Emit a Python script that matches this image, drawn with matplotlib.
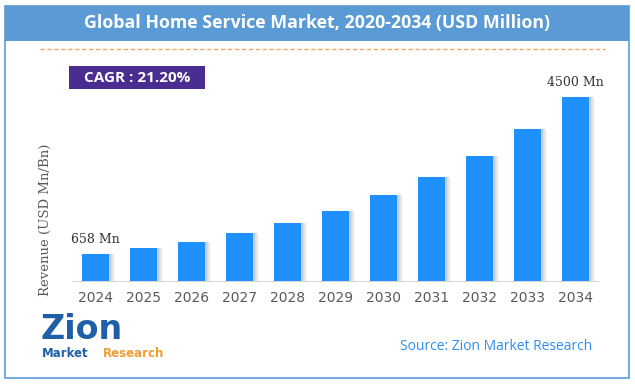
import matplotlib.pyplot as plt
from matplotlib.patches import Rectangle
import numpy as np

# 数据
years = ["2024", "2025", "2026", "2027", "2028", "2029", "2030", "2031", "2032", "2033", "2034"]
revenue = [658, 800, 965, 1170, 1420, 1720, 2090, 2530, 3065, 3715, 4500]
first_label = "658 Mn"
last_label = "4500 Mn"
title = "Global Home Service Market, 2020-2034 (USD Million)"
cagr = "CAGR : 21.20%"
source = "Source: Zion Market Research"

W, H = 635, 385
fig = plt.figure(figsize=(W / 100, H / 100), dpi=100)

def px(x, y):
    # 像素坐标 -> 图坐标
    return x / W, 1 - y / H

# 外框与标题栏
fig.patches.append(Rectangle(px(5, 378), 624 / W, 372 / H, transform=fig.transFigure,
                             fill=False, edgecolor="#5B9BD5", linewidth=1.2))
fig.patches.append(Rectangle(px(5, 41), 624 / W, 35 / H, transform=fig.transFigure,
                             facecolor="#5B9BD5", edgecolor="none"))
fig.text(*px(317, 23), title, color="white", fontsize=12.8, fontweight="bold",
         family="Open Sans", ha="center", va="center")

# 橙色虚线
fig.add_artist(plt.Line2D([40 / W, 605 / W], [1 - 49 / H] * 2, transform=fig.transFigure,
                          color="#F4A460", linestyle=(0, (3, 2)), linewidth=1))

# CAGR 框
fig.patches.append(Rectangle(px(69, 89), 136 / W, 23 / H, transform=fig.transFigure,
                             facecolor="#4B2C91", edgecolor="none"))
fig.text(*px(137, 78), cagr, color="white", fontsize=11, fontweight="bold",
         family="Open Sans", ha="center", va="center")

# 柱状图
ax = fig.add_axes([72 / W, 1 - 281 / H, 526 / W, 221 / H])
x = np.arange(len(years))
bw = 0.56
for k in range(1, 7):
    ax.bar(x + bw / 2 + k * 0.02 - 0.01, revenue, width=0.04, color="#555555",
           alpha=0.10 * (7 - k) / 3, zorder=1, linewidth=0)
ax.bar(x, revenue, width=bw, color="#1E90FF", zorder=3, linewidth=0)
ax.set_xlim(-0.49, 10.47)
ax.set_ylim(0, 5400)
ax.set_xticks(x)
ax.set_xticklabels(years, fontsize=10, color="#595959")
ax.tick_params(axis="x", length=0, pad=7)
ax.set_yticks([])
for s in ["top", "left", "right"]:
    ax.spines[s].set_visible(False)
ax.spines["bottom"].set_color("#D9D9D9")
ax.patch.set_alpha(0)

ax.annotate(first_label, (x[0], revenue[0]), xytext=(0, 6), textcoords="offset points",
            ha="center", va="bottom", fontsize=9, family="DejaVu Serif", color="#333333")
ax.annotate(last_label, (x[-1], revenue[-1]), xytext=(0, 6), textcoords="offset points",
            ha="center", va="bottom", fontsize=9, family="DejaVu Serif", color="#333333")

fig.text(*px(45, 220), "Revenue (USD Mn/Bn)", rotation=90, fontsize=9.5,
         family="DejaVu Serif", color="#595959", ha="center", va="center")

# 标志
fig.text(*px(41, 339), "Zion", fontsize=24, fontweight="bold", color="#1F5FA8",
         family="DejaVu Sans", ha="left", va="baseline")
fig.text(*px(42, 347), "Market", fontsize=8.5, fontweight="bold", color="#1F5FA8",
         family="DejaVu Sans", ha="left", va="top")
fig.text(*px(103, 347), "Research", fontsize=8.5, fontweight="bold", color="#F39C34",
         family="DejaVu Sans", ha="left", va="top")

fig.text(*px(592, 347), source, fontsize=10, color="#2E8FEF", family="Open Sans",
         ha="right", va="center")

fig.savefig("out.png", dpi=100)
